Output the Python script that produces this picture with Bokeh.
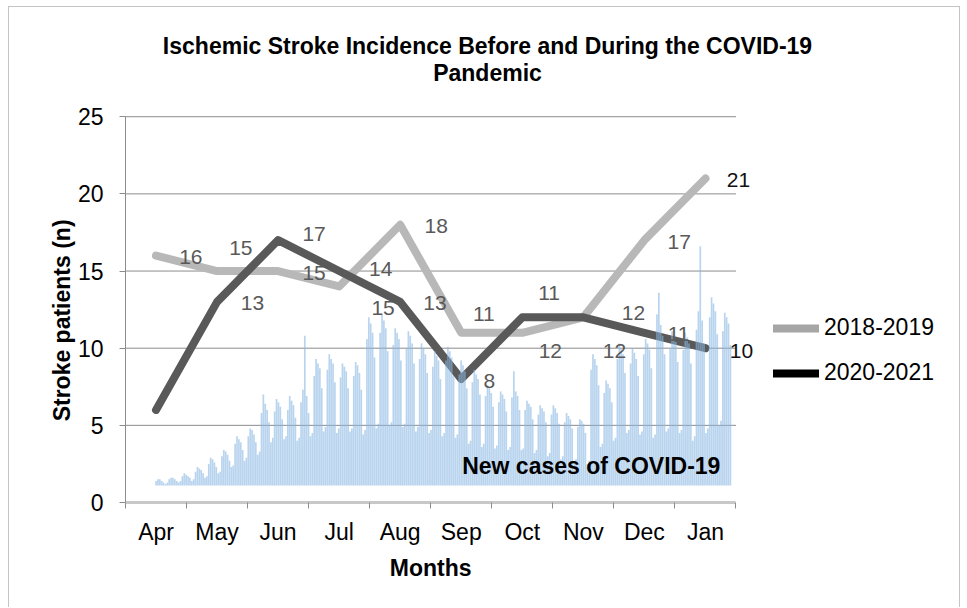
from bokeh.plotting import figure
from bokeh.models import (ColumnDataSource, FixedTicker, Legend, LegendItem,
                          Label, LabelSet, Range1d, LinearAxis)
from bokeh.embed import file_html
from bokeh.resources import INLINE

# ---------------- data ----------------
months = ["Apr", "May", "Jun", "Jul", "Aug", "Sep", "Oct", "Nov", "Dec", "Jan"]
stroke_2018_2019 = [16, 15, 15, 14, 18, 11, 11, 12, 17, 21]
stroke_2020_2021 = [6, 13, 17, 15, 13, 8, 12, 12, 11, 10]
y_ticks = [0, 5, 10, 15, 20, 25]

# data labels as they appear in the original (text, x in month units, y in patients)
label_text = ["16", "15", "13", "17", "15", "14", "15", "18", "13", "11",
              "8", "11", "12", "12", "12", "17", "11", "21", "10"]
label_x = [0.57, 1.39, 1.58, 2.59, 2.59, 3.68, 3.72, 4.59, 4.57, 5.37,
           5.46, 6.44, 6.46, 7.51, 7.82, 8.57, 8.56, 9.54, 9.59]
label_y = [15.9, 16.5, 12.9, 17.4, 14.9, 15.1, 12.6, 17.9, 12.9, 12.2,
           7.9, 13.6, 9.8, 9.8, 12.3, 16.9, 10.9, 20.9, 9.8]
label_is_dark = [False] * 17 + [True, True]

# daily new COVID-19 cases (inset histogram, height read on the patient axis), Apr 2020 - Jan 2021
covid_daily = [
    1.4, 1.5, 1.5, 1.4, 1.3, 1.2, 1.3,
    1.5, 1.6, 1.6, 1.5, 1.4, 1.3, 1.4,
    1.7, 1.9, 1.8, 1.7, 1.6, 1.4, 1.5,
    2.0, 2.3, 2.2, 2.1, 1.9, 1.6, 1.7,
    2.5, 2.9, 2.8, 2.6, 2.3, 1.9, 2.0,
    3.0, 3.4, 3.3, 3.1, 2.7, 2.3, 2.4,
    3.8, 4.3, 4.1, 3.9, 3.4, 2.7, 2.9,
    4.3, 4.8, 4.7, 4.4, 3.9, 3.1, 3.3,
    5.8, 7.0, 6.4, 6.0, 5.2, 3.9, 4.2,
    5.9, 6.7, 6.5, 6.2, 5.4, 4.1, 4.3,
    6.0, 6.9, 6.6, 6.3, 5.5, 4.0, 4.2,
    6.5, 7.3, 10.8, 6.9, 5.8, 4.3, 4.5,
    8.2, 9.3, 9.0, 8.7, 7.4, 4.6, 4.9,
    8.6, 9.6, 9.3, 9.0, 7.8, 4.5, 4.8,
    8.1, 9.0, 8.8, 8.5, 7.4, 4.6, 4.8,
    8.2, 9.1, 8.9, 8.4, 7.3, 4.4, 4.7,
    10.6, 12.0, 11.6, 11.0, 9.4, 4.8, 5.1,
    11.0, 12.2, 11.8, 11.3, 9.8, 5.0, 5.2,
    10.2, 11.3, 11.0, 10.6, 9.2, 4.9, 5.1,
    10.0, 11.1, 10.8, 10.3, 9.0, 4.6, 4.9,
    9.3, 10.3, 10.0, 9.6, 8.4, 4.5, 4.7,
    8.8, 9.8, 9.5, 9.2, 8.0, 4.3, 4.5,
    9.2, 10.1, 9.8, 9.4, 8.2, 4.2, 4.4,
    8.3, 9.2, 8.9, 8.5, 7.4, 3.8, 4.0,
    7.8, 8.6, 8.3, 8.0, 7.0, 3.6, 3.8,
    6.9, 7.6, 7.4, 7.1, 6.2, 3.5, 3.7,
    6.5, 7.2, 7.0, 6.7, 5.9, 3.4, 3.6,
    6.8, 8.5, 7.2, 6.9, 6.0, 3.4, 3.5,
    6.0, 6.6, 6.4, 6.2, 5.4, 3.2, 3.4,
    5.7, 6.3, 6.1, 5.9, 5.2, 3.0, 3.2,
    5.7, 6.3, 6.1, 5.8, 5.1, 2.8, 3.0,
    5.2, 5.8, 5.6, 5.4, 4.8, 2.6, 2.8,
    4.9, 5.4, 5.3, 5.1, 4.5, 2.5, 2.7,
    8.6, 9.6, 9.3, 8.9, 7.6, 3.6, 3.8,
    7.1, 7.9, 7.7, 7.4, 6.5, 4.0, 4.2,
    9.3, 10.3, 10.0, 9.6, 8.4, 4.5, 4.7,
    9.0, 10.0, 9.7, 9.3, 8.2, 4.4, 4.6,
    9.6, 10.6, 10.3, 9.9, 8.7, 4.2, 4.4,
    12.2, 13.6, 11.5, 10.8, 9.6, 4.6, 4.8,
    10.0, 11.1, 10.8, 10.4, 9.1, 4.5, 4.7,
    9.9, 11.0, 10.7, 10.3, 9.0, 4.0, 4.3,
    11.2, 12.4, 16.6, 11.8, 10.3, 4.5, 4.8,
    12.0, 13.3, 12.9, 12.4, 10.9, 5.0, 5.3,
    11.1, 12.3, 12.0, 11.6, 10.2,
]
covid_base = 1.1
covid_span = 9.44   # the inset spans from the Apr centre to just before the right edge

title_lines = ["Ischemic Stroke Incidence Before and During the COVID-19", "Pandemic"]
x_title = "Months"
y_title = "Stroke patients (n)"

# ---------------- layout ----------------
FONT = "Liberation Sans"
W, H = 950, 600
LEFT, BOTTOM = 116, 106            # axis panels
PX_PER_MONTH, PX_PER_PATIENT = 60.9, 15.4
# the plotting frame is stretched over the whole area right of / above the axes, so that
# the title, legend and end labels (which sit outside the axes box) are not clipped;
# axis bounds keep the axes to Apr..Jan and 0..25 as in the original
x_end = -0.5 + (W - LEFT) / PX_PER_MONTH
y_end = (H - BOTTOM) / PX_PER_PATIENT

p = figure(width=W, height=H, output_backend="svg", toolbar_location=None,
           x_range=Range1d(-0.5, x_end), y_range=Range1d(0, y_end),
           min_border_left=LEFT, min_border_right=0,
           min_border_top=0, min_border_bottom=BOTTOM,
           background_fill_color="white", border_fill_color="white",
           outline_line_color=None)
p.styles = {"margin-left": "8px", "margin-top": "6px", "box-sizing": "content-box",
            "border-left": "1px solid #c4c4c4", "border-top": "1px solid #c4c4c4",
            "border-right": "1px solid #c4c4c4"}

# title (two centred lines)
for txt, yy in zip(title_lines, [29.61, 27.86]):
    p.add_layout(Label(x=5.43, y=yy, text=txt, text_font=FONT, text_font_size="23px",
                       text_font_style="bold", text_color="#000000",
                       text_align="center", text_baseline="middle"))

# x axis
xs = list(range(len(months)))
p.xaxis.bounds = (-0.5, len(months) - 0.5)
p.xaxis.ticker = FixedTicker(ticks=xs, minor_ticks=[i - 0.5 for i in range(len(months) + 1)])
p.xaxis.major_label_overrides = {i: m for i, m in enumerate(months)}
p.xaxis.major_tick_out = 0
p.xaxis.major_tick_in = 0
p.xaxis.minor_tick_out = 6
p.xaxis.minor_tick_in = 0
p.xaxis.minor_tick_line_color = "#8c8c8c"
p.xaxis.axis_line_color = "#c8c8c8"
p.xaxis.axis_line_width = 3
p.xaxis.major_label_standoff = 10
p.xaxis.major_label_text_font = FONT
p.xaxis.major_label_text_font_size = "23px"
p.xaxis.major_label_text_color = "#000000"

# y axis
p.yaxis.bounds = (y_ticks[0], y_ticks[-1])
p.yaxis.ticker = FixedTicker(ticks=y_ticks)
p.yaxis.minor_tick_line_color = None
p.yaxis.major_tick_out = 6
p.yaxis.major_tick_in = 0
p.yaxis.major_tick_line_color = "#8c8c8c"
p.yaxis.axis_line_color = "#8c8c8c"
p.yaxis.major_label_standoff = 16
p.yaxis.major_label_text_font = FONT
p.yaxis.major_label_text_font_size = "23px"
p.yaxis.major_label_text_color = "#000000"

# axis titles, centred on the Apr..Jan / 0..25 box (outer label-only axes)
x_mid = (len(months) - 1) / 2
y_mid = 11.8
xt = LinearAxis(ticker=FixedTicker(ticks=[x_mid], minor_ticks=[]),
                major_label_overrides={x_mid: x_title},
                axis_line_color=None, major_tick_line_color=None, minor_tick_line_color=None,
                major_label_standoff=1, major_label_text_font=FONT,
                major_label_text_font_size="23px", major_label_text_font_style="bold",
                major_label_text_color="#000000")
p.add_layout(xt, "below")
yt = LinearAxis(ticker=FixedTicker(ticks=[y_mid], minor_ticks=[]),
                major_label_overrides={y_mid: y_title},
                major_label_orientation="parallel",
                axis_line_color=None, major_tick_line_color=None, minor_tick_line_color=None,
                major_label_standoff=-7, major_label_text_font=FONT,
                major_label_text_font_size="23px", major_label_text_font_style="bold",
                major_label_text_color="#000000")
p.add_layout(yt, "left")

# horizontal gridlines limited to the axes box
p.xgrid.grid_line_color = None
p.ygrid.grid_line_color = None
grid_y = y_ticks[1:]
p.segment(x0=[-0.5] * len(grid_y), x1=[len(months) - 0.5] * len(grid_y),
          y0=grid_y, y1=grid_y, line_color="#8c8c8c", line_width=1)

# lines
p.line(xs, stroke_2018_2019, line_color="#b8b8b8", line_width=8,
       line_join="round", line_cap="round")
p.line(xs, stroke_2020_2021, line_color="#595959", line_width=8,
       line_join="round", line_cap="round")

# covid inset bars
step = covid_span / len(covid_daily)
covid_src = ColumnDataSource(dict(
    x=[i * step for i in range(len(covid_daily))],
    top=covid_daily,
    bottom=[covid_base] * len(covid_daily),
))
p.vbar(x="x", top="top", bottom="bottom", width=step * 0.9, source=covid_src,
       fill_color="#8ab8e2", fill_alpha=0.6, line_color=None)

p.add_layout(Label(x=7.13, y=2.34, text="New cases of COVID-19",
                   text_font=FONT, text_font_size="23px", text_font_style="bold",
                   text_color="#000000", text_align="center", text_baseline="middle"))

# data labels
lab_src = ColumnDataSource(dict(
    x=label_x, y=label_y, text=label_text,
    color=["#111111" if d else "#595959" for d in label_is_dark],
))
p.add_layout(LabelSet(x="x", y="y", text="text", source=lab_src, text_color="color",
                      text_font={"value": FONT}, text_font_size={"value": "21px"},
                      text_align="center", text_baseline="middle"))

# legend (swatches coloured as in the original)
nan = float("nan")
lg18 = p.line([0, 0], [nan, nan], line_color="#a6a6a6", line_width=8, line_cap="round")
lg20 = p.line([0, 0], [nan, nan], line_color="#000000", line_width=8, line_cap="round")
legend = Legend(items=[LegendItem(label="2018-2019", renderers=[lg18]),
                       LegendItem(label="2020-2021", renderers=[lg20])],
                location=(648, 116), orientation="vertical",
                glyph_width=46, glyph_height=20, label_height=20,
                spacing=18, padding=0, margin=0, label_standoff=5,
                border_line_color=None, background_fill_alpha=0,
                label_text_font=FONT, label_text_font_size="23px",
                label_text_color="#000000")
p.add_layout(legend)

open("out.html", "w").write(file_html(p, INLINE))
